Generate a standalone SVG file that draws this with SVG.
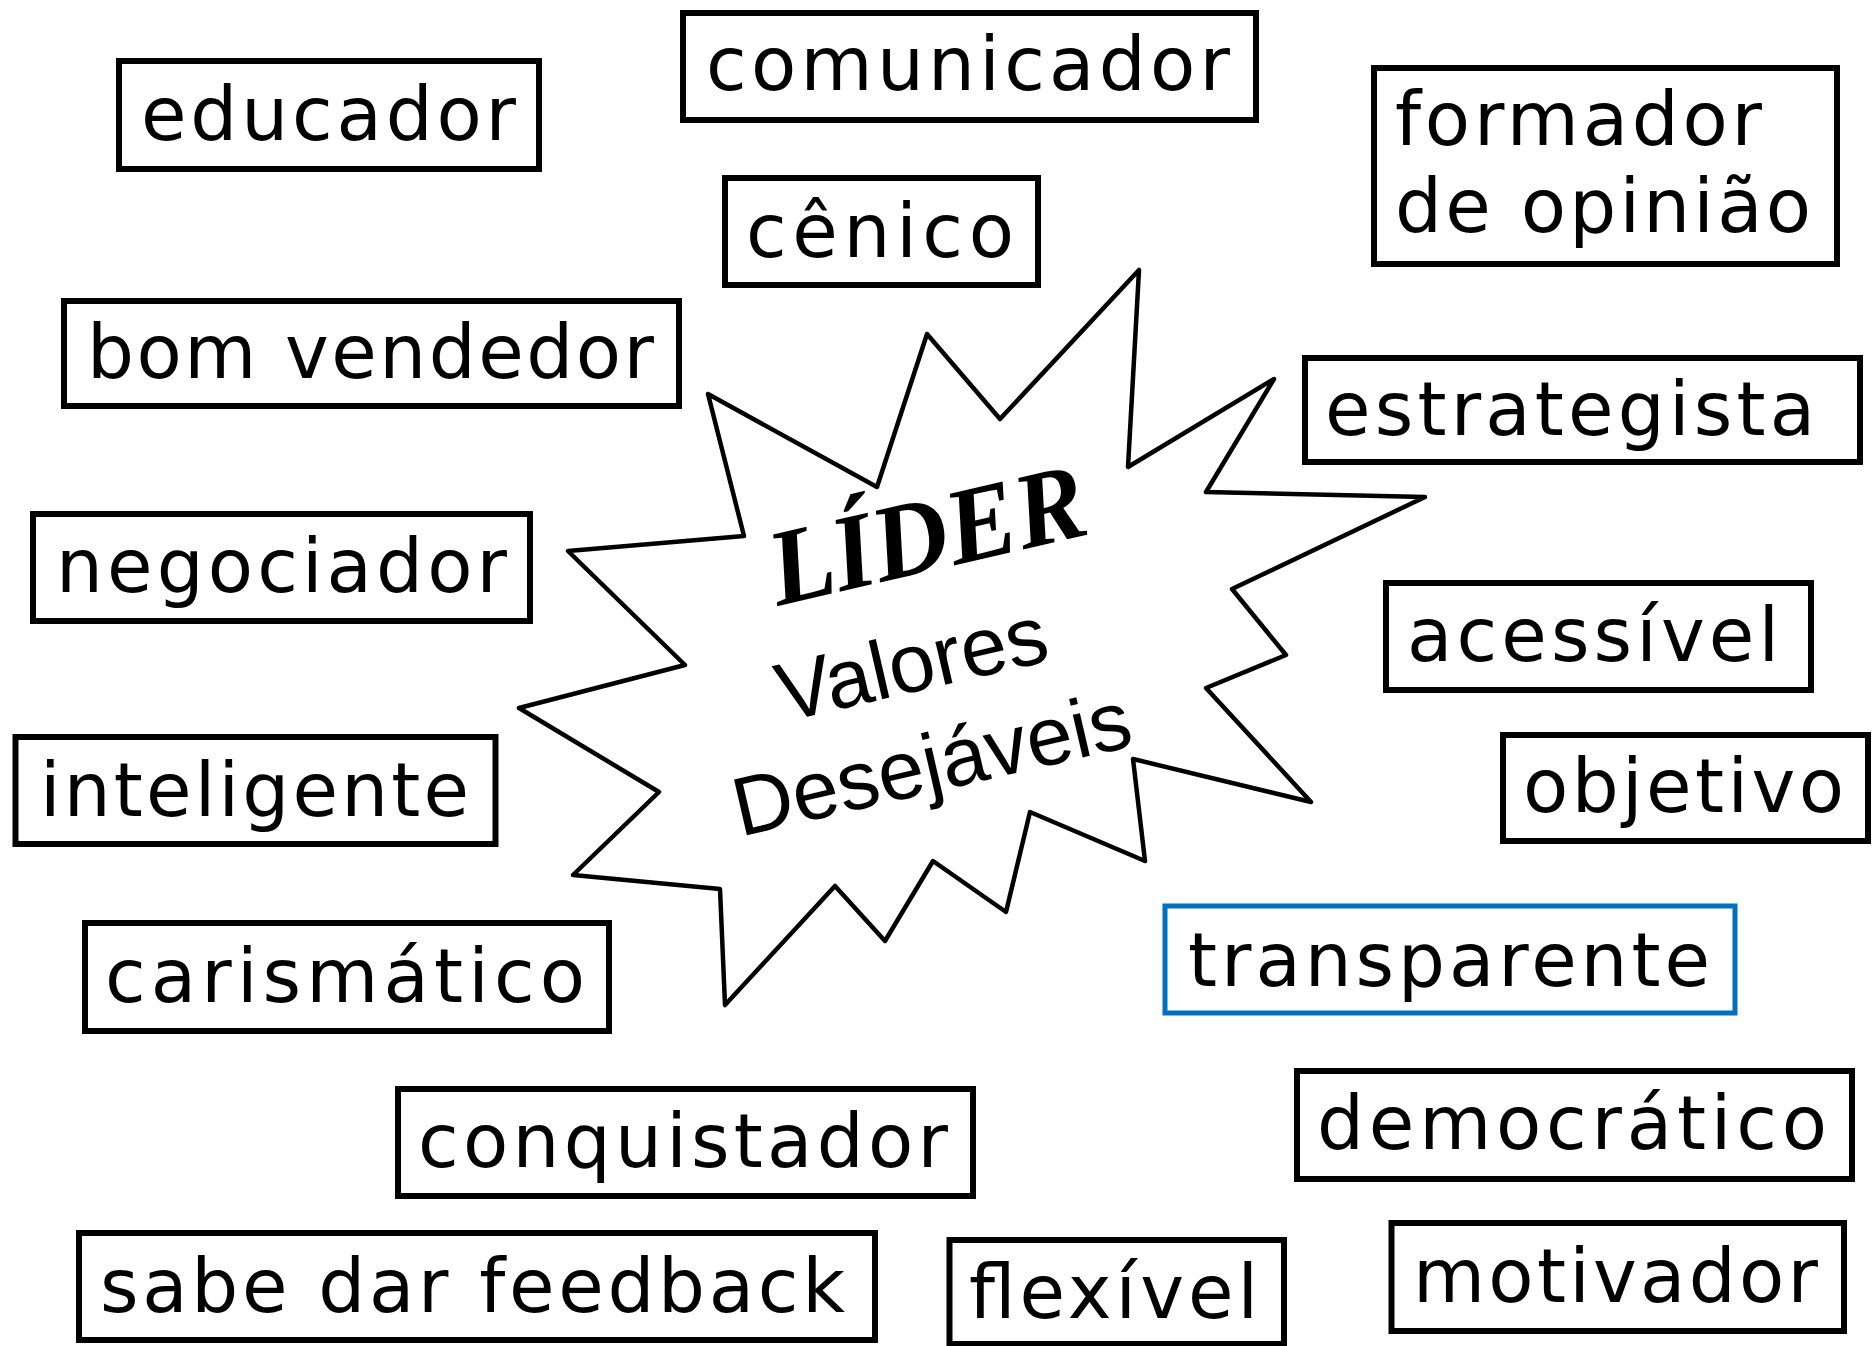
<svg xmlns="http://www.w3.org/2000/svg" width="1872" height="1346" viewBox="0 0 1872 1346">
<style>
.box{fill:#fff;stroke:#000;stroke-width:6}
.blue{stroke:#0070C0;stroke-width:5}
.t{font-family:"DejaVu Sans","Liberation Sans",sans-serif;font-size:74px;fill:#000}
.c{font-family:"Liberation Sans",Arial,sans-serif;font-size:83px;fill:#000}
.lider{font-family:"Liberation Serif","DejaVu Serif",serif;font-style:italic;font-weight:bold;font-size:108px;fill:#000}
.star{fill:#fff;stroke:#000;stroke-width:4.5;stroke-linejoin:round}
</style>
<rect width="1872" height="1346" fill="#fff"/>
<g id="connectors"></g>
<g id="star">
<polygon class="star" points="708,394 877,487 927,334 1000,419 1139,270 1128,467 1274,379 1206,492 1425,497 1232,589 1286,655 1206,688 1311,802 1133,759 1145,861 1030,812 1006,912 933,861 885,941 835,886 725,1005 720,889 573,875 659,792 519,708 685,665 568,551 744,536"/>
<text class="lider" x="778" y="606" textLength="322" lengthAdjust="spacingAndGlyphs" transform="rotate(-13 778 606)">LÍDER</text>
<text class="c" x="918" y="691" text-anchor="middle" transform="rotate(-13 918 691)">Valores</text>
<text class="c" x="938" y="791" text-anchor="middle" font-size="84" transform="rotate(-13 938 791)">Desejáveis</text>
</g>
<g id="n-educador"><rect class="box" x="119" y="61" width="420" height="108"/><text class="t" x="141" y="140" textLength="375" lengthAdjust="spacing">educador</text></g>
<g id="n-comunicador"><rect class="box" x="683" y="13" width="573" height="107"/><text class="t" x="706" y="90" textLength="524" lengthAdjust="spacing">comunicador</text></g>
<g id="n-cenico"><rect class="box" x="725" y="178" width="313" height="107"/><text class="t" x="746" y="257" textLength="268" lengthAdjust="spacing">cênico</text></g>
<g id="n-formador"><rect class="box" x="1374" y="68" width="463" height="196"/><text class="t" x="1395" y="145" textLength="367" lengthAdjust="spacing">formador</text><text class="t" x="1395" y="232" textLength="416" lengthAdjust="spacing">de opinião</text></g>
<g id="n-estrategista"><rect class="box" x="1305" y="358" width="555" height="104"/><text class="t" x="1325" y="435" textLength="490" lengthAdjust="spacing">estrategista</text></g>
<g id="n-bomvendedor"><rect class="box" x="64" y="301" width="615" height="105"/><text class="t" x="87" y="378" textLength="567" lengthAdjust="spacing">bom vendedor</text></g>
<g id="n-negociador"><rect class="box" x="33" y="514" width="497" height="107"/><text class="t" x="56" y="592" textLength="451" lengthAdjust="spacing">negociador</text></g>
<g id="n-inteligente"><rect class="box" x="15.5" y="737" width="480" height="107"/><text class="t" x="40" y="816" textLength="429" lengthAdjust="spacing">inteligente</text></g>
<g id="n-carismatico"><rect class="box" x="85" y="923" width="524" height="108"/><text class="t" x="105" y="1002" textLength="480" lengthAdjust="spacing">carismático</text></g>
<g id="n-acessivel"><rect class="box" x="1386" y="583" width="425" height="107"/><text class="t" x="1407" y="661" textLength="372" lengthAdjust="spacing">acessível</text></g>
<g id="n-objetivo"><rect class="box" x="1503" y="735" width="365" height="106"/><text class="t" x="1523" y="812" textLength="321" lengthAdjust="spacing">objetivo</text></g>
<g id="n-transparente"><rect class="box blue" x="1165" y="906" width="570" height="107"/><text class="t" x="1188" y="986" textLength="522" lengthAdjust="spacing">transparente</text></g>
<g id="n-conquistador"><rect class="box" x="398" y="1089" width="575" height="107"/><text class="t" x="418" y="1167" textLength="530" lengthAdjust="spacing">conquistador</text></g>
<g id="n-feedback"><rect class="box" x="79" y="1233" width="796" height="107"/><text class="t" x="100" y="1312" textLength="745" lengthAdjust="spacing">sabe dar feedback</text></g>
<g id="n-flexivel"><rect class="box" x="949.5" y="1240" width="334.5" height="104"/><text class="t" x="969" y="1318" textLength="289" lengthAdjust="spacing">flexível</text></g>
<g id="n-democratico"><rect class="box" x="1297" y="1071" width="555" height="108"/><text class="t" x="1317" y="1149" textLength="510" lengthAdjust="spacing">democrático</text></g>
<g id="n-motivador"><rect class="box" x="1391.5" y="1223" width="452.5" height="108"/><text class="t" x="1413" y="1302" textLength="405" lengthAdjust="spacing">motivador</text></g>
</svg>
